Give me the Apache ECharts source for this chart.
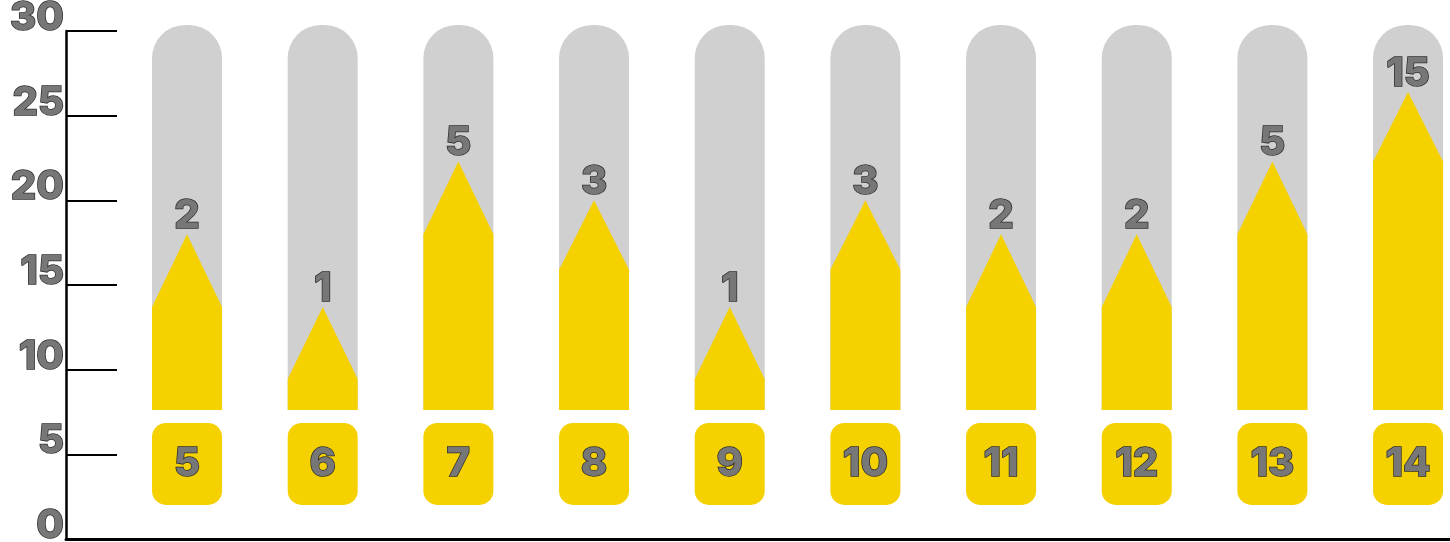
<!DOCTYPE html>
<html>
<head>
<meta charset="utf-8">
<script src="https://cdn.jsdelivr.net/npm/echarts@6/dist/echarts.min.js"></script>
<style>
html,body{margin:0;padding:0;background:#fff;}
#chart{width:1450px;height:542px;}
</style>
</head>
<body>
<div id="chart"></div>
<script>
// Categories shown in the yellow boxes under each column
const categories = ['5', '6', '7', '8', '9', '10', '11', '12', '13', '14'];
// Counts written above each arrow tip
const counts = [2, 1, 5, 3, 1, 3, 2, 2, 5, 15];
// Level (on the 0-30 scale) where the yellow column turns into the arrow head
const shoulders = [13.7, 9.45, 18.0, 15.9, 9.45, 15.9, 13.7, 13.7, 18.0, 22.3];
// Level of the arrow tip
const peaks = [18.0, 13.7, 22.3, 20.0, 13.7, 20.0, 18.0, 18.0, 22.3, 26.4];
// Shared levels: bottom of the columns and top of the grey tracks
const baseLevel = 7.62;
const trackTop = 30.35;
// Y axis tick labels
const yTicks = [0, 5, 10, 15, 20, 25, 30];

const YELLOW = '#f5d100';
const GREY = '#d0d0d0';
const FONT = 'Inter, "Open Sans", sans-serif';
const textStyleBase = {
  fontFamily: FONT,
  fontWeight: 800,
  fontSize: 40,
  fill: '#777777',
  stroke: '#2e2e2e',
  lineWidth: 1.5
};

const chart = echarts.init(document.getElementById('chart'), null, {renderer: 'canvas'});

const seriesData = categories.map((c, i) => [i, shoulders[i], peaks[i], counts[i]]);

function renderItem(params, api) {
  const idx = api.value(0);
  const base = api.coord([idx, baseLevel]);
  const cx = base[0];
  const baseY = base[1];
  const half = 35;
  const topY = api.coord([idx, trackTop])[1];
  const shY = api.coord([idx, api.value(1)])[1];
  const pkY = api.coord([idx, api.value(2)])[1];
  return {
    type: 'group',
    children: [
      {
        type: 'rect',
        shape: {x: cx - half, y: topY, width: half * 2, height: baseY - topY, r: [33, 33, 0, 0]},
        style: {fill: GREY}
      },
      {
        type: 'polygon',
        shape: {points: [[cx - half, baseY], [cx - half, shY], [cx, pkY], [cx + half, shY], [cx + half, baseY]]},
        style: {fill: YELLOW}
      },
      {
        type: 'text',
        style: Object.assign({}, textStyleBase, {
          text: String(api.value(3)), x: cx, y: pkY - 18, align: 'center', verticalAlign: 'middle'
        })
      },
      {
        type: 'rect',
        shape: {x: cx - half, y: baseY + 13, width: half * 2, height: 82, r: 14},
        style: {fill: YELLOW}
      },
      {
        type: 'text',
        style: Object.assign({}, textStyleBase, {
          text: categories[idx], x: cx, y: baseY + 54, align: 'center', verticalAlign: 'middle'
        })
      }
    ]
  };
}

const option = {
  backgroundColor: '#ffffff',
  animation: false,
  grid: [
    {left: 66, right: 0, top: 31, bottom: 3, containLabel: false, outerBoundsMode: 'none'},
    {left: 119.2, width: 1356.7, top: 31, bottom: 3, containLabel: false, outerBoundsMode: 'none'}
  ],
  xAxis: [
    {
      gridIndex: 0, type: 'value', min: 0, max: 1,
      axisLine: {show: true, onZero: false, lineStyle: {color: '#000', width: 3}},
      axisTick: {show: false}, axisLabel: {show: false}, splitLine: {show: false}
    },
    {
      gridIndex: 1, type: 'category', data: categories,
      axisLine: {show: false}, axisTick: {show: false}, axisLabel: {show: false}, splitLine: {show: false}
    }
  ],
  yAxis: [
    {
      gridIndex: 0, type: 'value', min: yTicks[0], max: yTicks[yTicks.length - 1], interval: 5,
      axisLine: {show: true, lineStyle: {color: '#000', width: 2.5}},
      axisTick: {show: true, inside: true, length: 51, lineStyle: {color: '#000', width: 2}},
      splitLine: {show: false},
      axisLabel: {
        show: true, margin: 2, fontFamily: FONT, fontWeight: 800, fontSize: 40,
        color: '#777777', textBorderColor: '#2e2e2e', textBorderWidth: 1.5,
        verticalAlign: 'bottom', lineHeight: 26
      }
    },
    {
      gridIndex: 1, type: 'value', min: yTicks[0], max: yTicks[yTicks.length - 1],
      show: false, splitLine: {show: false}
    }
  ],
  series: [
    {
      type: 'custom',
      xAxisIndex: 1, yAxisIndex: 1,
      clip: false,
      renderItem: renderItem,
      data: seriesData,
      encode: {x: 0, y: [1, 2]}
    }
  ]
};
chart.setOption(option);
</script>
</body>
</html>
